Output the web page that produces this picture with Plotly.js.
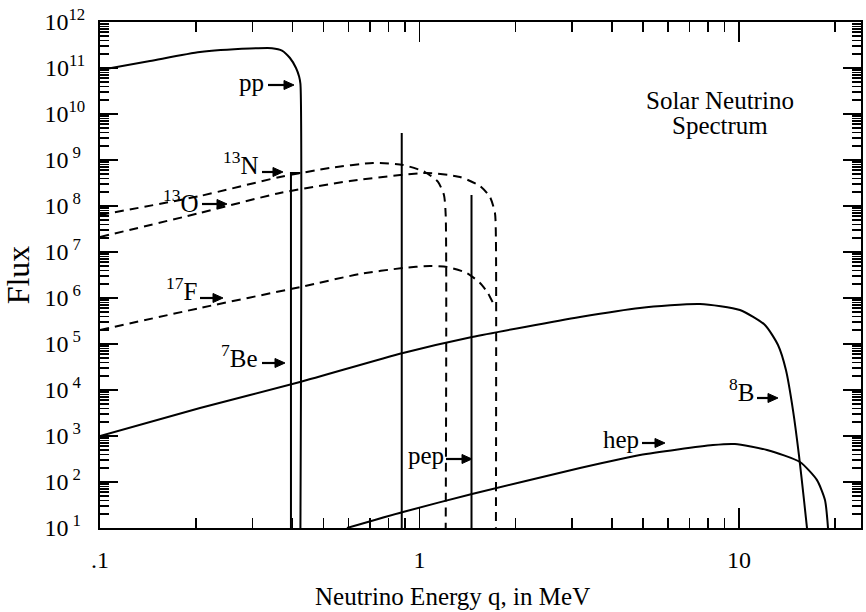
<!DOCTYPE html>
<html><head><meta charset="utf-8">
<script src="https://cdn.plot.ly/plotly-3.0.1.min.js"></script>
<style>html,body{margin:0;padding:0;background:#fff}</style>
</head><body><div id="chart" style="width:866px;height:612px"></div>
<script>
// ---- data (MeV, flux) ----
const ppEnergy  = [0.100, 0.1434, 0.2056, 0.2947, 0.3454, 0.3712, 0.3932, 0.4107, 0.4200, 0.4240, 0.4240];
const ppFlux    = [9.05e10, 1.42e11, 2.23e11, 2.65e11, 2.70e11, 2.40e11, 1.65e11, 1.0e11, 6.5e10, 4.5e10, 10];

const n13Energy = [0.100, 0.2056, 0.3659, 0.5246, 0.7153, 0.888, 1.040, 1.143, 1.193, 1.208, 1.208];
const n13Flux   = [6.37e7, 1.65e8, 4.27e8, 6.70e8, 8.61e8, 7.78e8, 5.48e8, 3.33e8, 1.73e8, 6.4e7, 10];

const o15Energy = [0.100, 0.2056, 0.3659, 0.6062, 1.056, 1.339, 1.547, 1.662, 1.723, 1.735, 1.735];
const o15Flux   = [2.12e7, 7.05e7, 1.92e8, 3.49e8, 5.21e8, 4.27e8, 2.72e8, 1.57e8, 7.05e7, 1.82e7, 10];

const f17Energy = [0.100, 0.2056, 0.4227, 0.6514, 0.888, 1.079, 1.220, 1.408, 1.547, 1.638, 1.699];
const f17Flux   = [2.01e5, 6.06e5, 1.73e6, 3.33e6, 4.49e6, 4.96e6, 4.72e6, 3.49e6, 2.12e6, 1.28e6, 7.8e5];

const b8Energy  = [0.100, 0.2056, 0.4227, 0.888, 1.460, 3.18, 4.90, 7.55, 10.07, 12.06, 13.25, 14.03, 14.76, 15.41, 15.98, 16.33];
const b8Flux    = [1.0e3, 4.06e3, 1.49e4, 6.37e4, 1.42e5, 3.86e5, 6.07e5, 7.41e5, 5.48e5, 2.59e5, 9.5e4, 2.72e4, 3.67e3, 386, 40.6, 10];

const hepEnergy = [0.593, 0.888, 1.460, 3.18, 4.90, 8.29, 9.71, 12.24, 15.52, 17.55, 18.59, 19.0];
const hepFlux   = [10, 22.3, 54.8, 201, 386, 637, 670, 497, 272, 110, 40.6, 10];

// line sources: 7Be (two lines) and pep
const be7LineEnergy = [0.396, 0.880];
const be7LineFlux   = [5.2e8, 3.86e9];
const pepLineEnergy = [1.455];
const pepLineFlux   = [1.73e8];
const fluxFloor = 10;

const xTickVals = [0.1, 1, 10];
const xTickText = ['.1', '1', '10'];
const yExponents = [1,2,3,4,5,6,7,8,9,10,11,12];

// ---- traces ----
const solid = {color: 'black', width: 2};
const dashed = {color: 'black', width: 2, dash: '9px,6px'};
function curve(x, y, line) {
  return {type: 'scatter', mode: 'lines', x: x, y: y, line: Object.assign({shape: 'spline', smoothing: 0.6}, line), hoverinfo: 'skip', showlegend: false};
}
function straight(x, y, line) {
  return {type: 'scatter', mode: 'lines', x: x, y: y, line: line, hoverinfo: 'skip', showlegend: false};
}
const traces = [
  curve(ppEnergy, ppFlux, solid),
  curve(n13Energy, n13Flux, dashed),
  curve(o15Energy, o15Flux, dashed),
  curve(f17Energy, f17Flux, dashed),
  curve(b8Energy, b8Flux, solid),
  curve(hepEnergy, hepFlux, solid),
  straight([be7LineEnergy[0], be7LineEnergy[0], ppEnergy[ppEnergy.length-1]], [fluxFloor, be7LineFlux[0], be7LineFlux[0]], solid),
  straight([be7LineEnergy[1], be7LineEnergy[1]], [fluxFloor, be7LineFlux[1]], solid),
  straight([pepLineEnergy[0], pepLineEnergy[0]], [fluxFloor, pepLineFlux[0]], solid)
];

// ---- layout helpers (pixel -> paper) ----
const L = 100, R = 861, T = 22, B = 528;
const W = R - L, H = B - T;
const px = v => (v - L) / W;
const py = v => (B - v) / H;
const FONT = 'Liberation Serif, Times New Roman, serif';
const TXT = 25;

function label(text, xRight, yMid) {
  return {xref: 'paper', yref: 'paper', x: px(xRight), y: py(yMid), text: text, showarrow: false,
          xanchor: 'right', yanchor: 'middle', font: {family: FONT, size: TXT, color: 'black'}};
}
// arrow drawn with shapes: shaft + filled head (pixel geometry -> paper)
const shapes = [];
function arrow(xTail, xTip, y) {
  const headLen = 10, headHalf = 4.5;
  shapes.push({type: 'line', xref: 'paper', yref: 'paper', x0: px(xTail), y0: py(y), x1: px(xTip - headLen + 1), y1: py(y),
               line: {color: 'black', width: 2.2}});
  const p = (a, b) => px(a).toFixed(5) + ',' + py(b).toFixed(5);
  shapes.push({type: 'path', xref: 'paper', yref: 'paper',
               path: 'M' + p(xTip, y) + ' L' + p(xTip - headLen, y - headHalf) + ' L' + p(xTip - headLen, y + headHalf) + ' Z',
               fillcolor: 'black', line: {color: 'black', width: 1}});
}
arrow(268, 294, 85);
arrow(262, 283, 172);
arrow(202, 227, 204);
arrow(200, 223, 298);
arrow(262, 285, 363);
arrow(446, 472, 459);
arrow(642, 665, 443);
arrow(757, 778, 398);

const minorY = [];
for (let e = 1; e < 12; e++) for (let d = 2; d <= 9; d++) minorY.push(d * Math.pow(10, e));
const minorX = [];
for (let e = -1; e < 2; e++) for (let d = 2; d <= 9; d++) minorX.push(d * Math.pow(10, e));

const annotations = [
  label('pp', 266, 82),
  label('<sup>13</sup>N', 261, 163),
  label('<sup>13</sup>O', 201, 201),
  label('<sup>17</sup>F', 199, 289),
  label('<sup>7</sup>Be', 260, 356),
  label('pep', 446, 455),
  label('hep', 641, 439),
  label('<sup>8</sup>B', 756, 390),
  {xref: 'paper', yref: 'paper', x: px(720), y: py(100), text: 'Solar Neutrino', showarrow: false,
   xanchor: 'center', yanchor: 'middle', font: {family: FONT, size: TXT, color: 'black'}},
  {xref: 'paper', yref: 'paper', x: px(720), y: py(125), text: 'Spectrum', showarrow: false,
   xanchor: 'center', yanchor: 'middle', font: {family: FONT, size: TXT, color: 'black'}},
  {xref: 'paper', yref: 'paper', x: px(452), y: py(597), text: 'Neutrino Energy q, in MeV', showarrow: false,
   xanchor: 'center', yanchor: 'middle', font: {family: FONT, size: TXT, color: 'black'}}
];

const layout = {
  width: 866, height: 612,
  margin: {l: L, r: 866 - R, t: T, b: 612 - B},
  paper_bgcolor: 'white', plot_bgcolor: 'white',
  font: {family: FONT, color: 'black', size: TXT},
  showlegend: false,
  xaxis: {
    type: 'log', range: [-1, Math.log10(24.1)],
    tickmode: 'array', tickvals: xTickVals, ticktext: xTickText,
    ticks: 'inside', ticklen: 20, tickwidth: 1.5, tickcolor: 'black',
    minor: {tickmode: 'array', tickvals: minorX, ticks: 'inside', ticklen: 10, tickwidth: 1.5, tickcolor: 'black'},
    showline: true, linewidth: 2, linecolor: 'black', mirror: 'ticks',
    showgrid: false, zeroline: false,
    tickfont: {family: FONT, size: 24, color: 'black'},
    ticklabelstandoff: 9
  },
  yaxis: {
    type: 'log', range: [1, 12],
    tickmode: 'array',
    tickvals: yExponents.map(e => Math.pow(10, e)),
    ticktext: yExponents.map(e => e >= 10 ? '10<sup>' + e + '</sup>' : '10<sup>\u00A0' + e + '\u00A0</sup>'),
    ticks: 'inside', ticklen: 18, tickwidth: 1.5, tickcolor: 'black',
    minor: {tickmode: 'array', tickvals: minorY, ticks: 'inside', ticklen: 9, tickwidth: 1.5, tickcolor: 'black'},
    showline: true, linewidth: 2, linecolor: 'black', mirror: 'ticks',
    showgrid: false, zeroline: false,
    tickfont: {family: FONT, size: 24, color: 'black'},
    ticklabelstandoff: 8,
    title: {text: 'Flux', font: {family: FONT, size: 32, color: 'black'}, standoff: 6}
  },
  shapes: shapes,
  annotations: annotations
};

Plotly.newPlot('chart', traces, layout, {staticPlot: true, displayModeBar: false});
</script>
</body></html>
